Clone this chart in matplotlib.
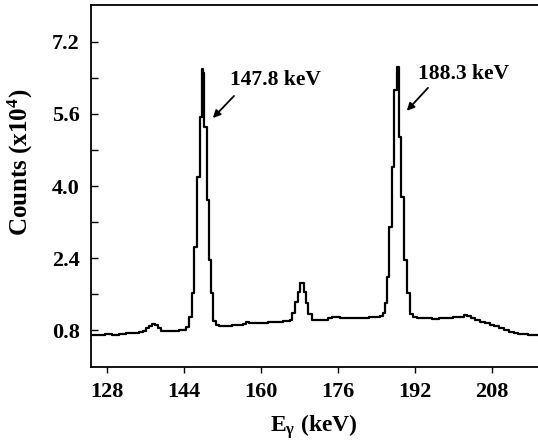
import matplotlib
matplotlib.use("Agg")
import matplotlib.pyplot as plt
from matplotlib.ticker import FixedLocator

plt.rcParams['font.family'] = ['Liberation Serif', 'DejaVu Serif']
plt.rcParams['font.weight'] = 'bold'
plt.rcParams['mathtext.fontset'] = 'custom'
plt.rcParams['mathtext.rm'] = 'Liberation Serif:bold'
plt.rcParams['mathtext.bf'] = 'Liberation Serif:bold'
plt.rcParams['mathtext.it'] = 'Liberation Serif:bold'

# Spectrum (bin left edges in keV, counts in units of 10^4)
energy = [124.6, 126.0, 127.5, 129.0, 130.5, 132.0, 133.5, 134.7, 135.5, 136.2,
          136.8, 137.4, 138.0, 138.6, 139.2, 139.9, 141.0, 142.0, 143.0, 143.8,
          144.4, 145.04, 145.6, 146.14, 146.7, 147.3, 147.66, 147.95, 148.2, 148.78,
          149.2, 149.6, 150.09, 150.6, 151.2, 152.0, 153.0, 154.0, 155.0, 156.2,
          156.8, 157.5, 158.5, 159.5, 160.5, 161.5, 162.5, 163.5, 164.5, 165.5,
          166.0, 166.4, 167.1, 167.6, 168.1, 168.9, 169.35, 169.8, 170.5, 171.0,
          172.0, 173.0, 174.0, 174.8, 175.6, 176.5, 178.0, 179.5, 181.0, 182.5,
          184.0, 184.8, 185.4, 185.8, 186.2, 186.7, 187.2, 187.7, 188.2, 188.6,
          189.15, 189.7, 190.3, 190.96, 191.5, 192.5, 194.0, 195.5, 197.0, 198.5,
          200.0, 201.3, 202.2, 202.9, 203.6, 204.5, 205.5, 206.5, 207.5, 208.5,
          209.5, 210.5, 211.5, 212.5, 213.5, 214.5, 215.5, 216.5, 217.6]
counts = [0.70, 0.70, 0.71, 0.70, 0.72, 0.73, 0.74, 0.76, 0.79, 0.85,
          0.90, 0.93, 0.91, 0.85, 0.79, 0.77, 0.78, 0.79, 0.80, 0.81,
          0.86, 1.09, 1.62, 2.64, 4.20, 5.53, 6.60, 6.50, 5.30, 3.70,
          2.36, 1.62, 1.00, 0.92, 0.88, 0.89, 0.90, 0.91, 0.92, 0.94,
          0.97, 0.96, 0.95, 0.96, 0.96, 0.97, 0.98, 0.99, 1.00, 1.01,
          1.03, 1.18, 1.43, 1.65, 1.85, 1.65, 1.40, 1.15, 1.03, 1.02,
          1.02, 1.03, 1.07, 1.10, 1.08, 1.07, 1.07, 1.07, 1.07, 1.08,
          1.09, 1.12, 1.18, 1.40, 1.98, 3.09, 4.42, 6.13, 6.64, 5.09,
          3.76, 2.36, 1.62, 1.15, 1.08, 1.07, 1.06, 1.05, 1.06, 1.06,
          1.08, 1.10, 1.13, 1.12, 1.06, 1.02, 0.99, 0.96, 0.92, 0.88,
          0.84, 0.80, 0.76, 0.73, 0.72, 0.71, 0.70, 0.69, 0.69]

xticks = [128, 144, 160, 176, 192, 208]
yticks = [0.8, 2.4, 4.0, 5.6, 7.2]
yminor = [1.6, 3.2, 4.8, 6.4]
peak_labels = ['147.8 keV', '188.3 keV']
label_pos = [(153.5, 6.36), (192.6, 6.49)]
arrow_tail = [(154.4, 6.0), (194.7, 6.18)]
arrow_head = [(150.0, 5.51), (190.3, 5.67)]

W, H = 538, 443
fig = plt.figure(figsize=(W / 100, H / 100), dpi=100)
ax = fig.add_axes([91 / W, 1 - 367 / H, (W - 91) / W, (367 - 5) / H])

ax.step(energy, counts, where='post', color='black', lw=1.6)

ax.set_xlim(124.68, 217.56)
ax.set_ylim(-0.02, 8.02)
ax.set_xticks(xticks)
ax.set_xticklabels([str(t) for t in xticks])
ax.set_yticks(yticks)
ax.set_yticklabels([f'{t:.1f}' for t in yticks])
ax.yaxis.set_minor_locator(FixedLocator(yminor))

ax.tick_params(axis='y', which='both', direction='in', length=5, width=1.0,
               labelsize=16, pad=8)
ax.tick_params(axis='x', which='both', direction='out', length=4, width=1.0,
               labelsize=16, pad=7)
for lab in ax.get_xticklabels() + ax.get_yticklabels():
    lab.set_fontweight('bold')

for s in ['left', 'bottom', 'top']:
    ax.spines[s].set_linewidth(1.3)
ax.spines['right'].set_visible(False)

for txt, (tx, ty), tail, head in zip(peak_labels, label_pos, arrow_tail, arrow_head):
    ax.text(tx, ty, txt, fontsize=15.5, fontweight='bold', ha='left', va='center')
    ax.annotate('', xy=head, xytext=tail,
                arrowprops=dict(arrowstyle='-|>', color='black', lw=1.3,
                                mutation_scale=11, shrinkA=0, shrinkB=0))

fig.text(20 / W, 1 - 162 / H, r'Counts (x10$^{\mathbf{4}}$)', rotation=90,
         fontsize=18, fontweight='bold', ha='center', va='center')
fig.text(314 / W, 1 - 427 / H, r'E$_{\mathbf{γ}}$ (keV)', fontsize=17,
         fontweight='bold', ha='center', va='center')

fig.savefig('out.png', dpi=100)
